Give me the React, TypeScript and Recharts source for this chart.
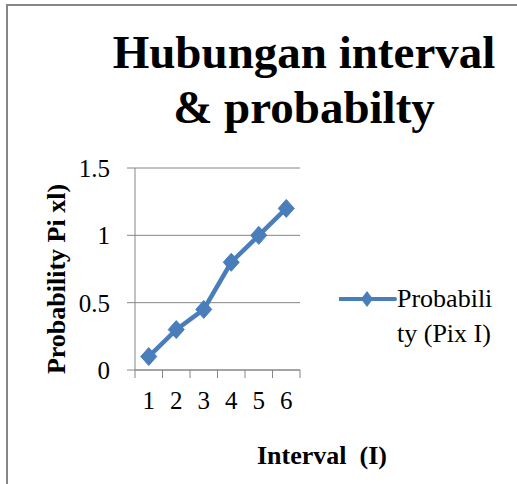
import React from "react";
import { LineChart, Line, XAxis, YAxis, CartesianGrid, Legend } from "recharts";

const intervals = [1, 2, 3, 4, 5, 6];
const probabilities = [0.1, 0.3, 0.45, 0.8, 1.0, 1.2];
const boundaryTicks = [0.5, 1.5, 2.5, 3.5, 4.5, 5.5, 6.5];
const xDomain: [number, number] = [0.5, 6.5];
const yDomain: [number, number] = [0, 1.5];
const yTicks = [0, 0.5, 1, 1.5];
const seriesName = "Probability (Pix I)";
const titleLines = ["Hubungan interval", "& probabilty"];
const yTitle = "Probability Pi xl)";
const xTitle = "Interval  (I)";

const data = intervals.map((x, i) => ({ x, p: probabilities[i] }));

const FONT = '"Liberation Serif", "Times New Roman", serif';
const BLUE = "#4A7EBB";
const GRAY = "#868686";

const Diamond = (props: any) => {
  const { cx, cy } = props;
  if (cx == null || cy == null) return null;
  const w = 8, h = 9;
  return (
    <path
      d={`M${cx},${cy - h} L${cx + w},${cy} L${cx},${cy + h} L${cx - w},${cy} Z`}
      fill={BLUE}
      stroke={BLUE}
      strokeWidth={1}
    />
  );
};

const XTick = (props: any) => {
  const { x, y, payload, index, visibleTicksCount, width } = props;
  if (index === visibleTicksCount - 1) return null;
  const half = width / (2 * (visibleTicksCount - 1));
  return (
    <text x={x + half} y={y} dy="0.71em" textAnchor="middle" fontFamily={FONT} fontSize={25} fill="#000">
      {String(intervals[index])}
    </text>
  );
};

const LegendContent = (props: any) => {
  const item = (props.payload || [])[0];
  return (
    <div style={{ display: "flex", alignItems: "flex-start", fontFamily: FONT, fontSize: 26, lineHeight: "35px", color: "#000" }}>
      <svg width={58} height={35} style={{ display: "block" }}>
        <line x1={1} y1={18} x2={56} y2={18} stroke={BLUE} strokeWidth={4} strokeLinecap="round" />
        <path d="M28,10 L34,18 L28,26 L22,18 Z" fill={BLUE} />
      </svg>
      <div style={{ width: 100, wordBreak: "break-all", textAlign: "left" }}>{item ? item.value : seriesName}</div>
    </div>
  );
};

const YTitle = (props: any) => {
  const vb = props.viewBox || {};
  const x = vb.x + 10;
  const y = 279;
  return (
    <text x={x} y={y} transform={`rotate(-90, ${x}, ${y})`} textAnchor="middle" fontFamily={FONT} fontSize={26} fontWeight="bold" fill="#000">
      {yTitle}
    </text>
  );
};

const XTitle = (props: any) => {
  const vb = props.viewBox || {};
  return (
    <text x={322} y={vb.y + 94} textAnchor="middle" fontFamily={FONT} fontSize={26} fontWeight="bold" fill="#000" style={{ whiteSpace: "pre" }}>
      {xTitle}
    </text>
  );
};

export default function App() {
  return (
    <div style={{ position: "absolute", left: 0, top: 0, width: 517, height: 484, background: "#fff", overflow: "hidden" }}>
      <div style={{ position: "absolute", left: 6, top: 4, width: 520, height: 490, borderLeft: `2px solid ${GRAY}`, borderTop: `2px solid ${GRAY}` }} />
      <LineChart
        width={517}
        height={484}
        data={data}
        margin={{ top: 168, right: 217, bottom: 74, left: 55 }}
        style={{ position: "absolute", left: 0, top: 0 }}
      >
        <CartesianGrid vertical={false} stroke={GRAY} />
        <XAxis
          type="number"
          dataKey="x"
          domain={xDomain}
          ticks={boundaryTicks}
          tick={XTick}
          tickSize={8}
          tickMargin={13}
          height={40}
          stroke={GRAY}
          interval={0}
          label={{ content: XTitle }}
        />
        <YAxis
          type="number"
          domain={yDomain}
          ticks={yTicks}
          width={80}
          tickSize={8}
          tickMargin={17}
          stroke={GRAY}
          tick={{ fontFamily: FONT, fontSize: 25, fill: "#000" }}
          label={{ content: YTitle }}
        />
        <Legend
          layout="horizontal"
          verticalAlign="middle"
          align="center"
          content={LegendContent}
          wrapperStyle={{ left: 339, top: 281, width: 170, height: 70 }}
        />
        <Line
          type="linear"
          dataKey="p"
          name={seriesName}
          stroke={BLUE}
          strokeWidth={4.5}
          dot={<Diamond />}
          activeDot={false}
          isAnimationActive={false}
        />
      </LineChart>
      <div
        style={{
          position: "absolute",
          left: 104,
          top: 25,
          width: 400,
          textAlign: "center",
          fontFamily: FONT,
          fontSize: 47,
          fontWeight: "bold",
          lineHeight: "55px",
          color: "#000",
        }}
      >
        {titleLines.map((t) => (
          <div key={t}>{t}</div>
        ))}
      </div>
    </div>
  );
}
